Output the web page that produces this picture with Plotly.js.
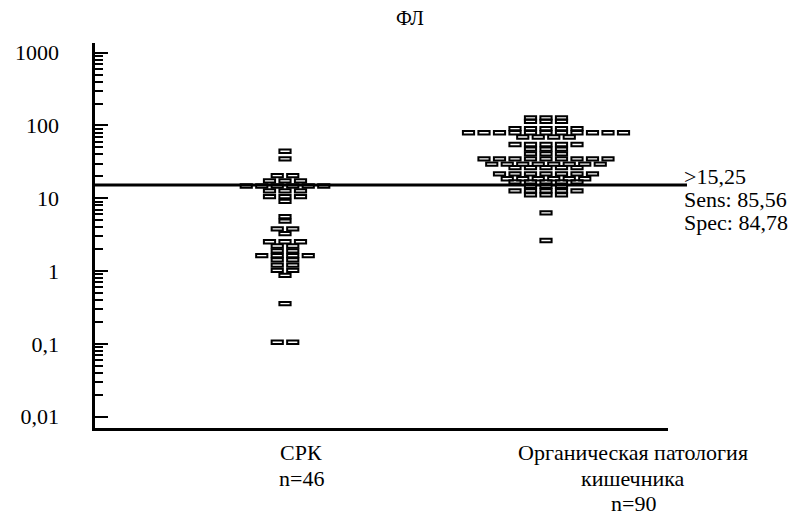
<!DOCTYPE html>
<html><head><meta charset="utf-8">
<script src="https://cdn.plot.ly/plotly-3.0.1.min.js"></script>
<style>html,body{margin:0;padding:0;background:#fff}</style>
</head><body><div id="chart" style="width:798px;height:524px"></div>
<script>
// ---- data ----
const chartTitle = "ФЛ";
const categoryLines = [["СРК"], ["Органическая патология", "кишечника"]];
const groupSizes = ["n=46", "n=90"];
const srkValues = [42, 33, 19.5, 19.5, 16.5, 16.5, 16.5,
  14, 14, 14, 14, 14, 14, 12, 12, 12, 10, 10, 10, 8.6,
  5.3, 4.6, 3.6, 3.6, 3.1, 2.4, 2.4, 2.4, 2.1, 2.1, 1.8, 1.8,
  1.55, 1.55, 1.55, 1.55, 1.35, 1.35, 1.15, 1.15, 0.97, 0.97, 0.83,
  0.34, 0.1, 0.1];
const orgValues = [121, 121, 121, 108, 108, 108, 86, 86, 86, 86, 86,
  75.5, 75.5, 75.5, 75.5, 75.5, 75.5, 75.5, 75.5, 75.5, 75.5, 75.5,
  66, 66, 66, 66, 52, 52, 52, 52, 52, 45, 45, 45, 38.6, 38.6, 38.6,
  33, 33, 33, 33, 33, 33, 33, 33, 33, 28, 28, 28, 28, 28, 28, 28, 28,
  25, 25, 25, 25, 25, 20.6, 20.6, 20.6, 20.6, 20.6, 20.6, 20.6,
  17.6, 17.6, 17.6, 17.6, 17.6, 17.6, 16, 16, 16, 16, 16,
  13.9, 13.9, 13.9, 12, 12, 12, 12, 12, 10.6, 10.6, 10.6, 6, 2.5];
const cutoff = 15.25;
const statLines = [">15,25", "Sens: 85,56", "Spec: 84,78"];
const yTickVals = [0.01, 0.1, 1, 10, 100, 1000];
const yTickText = ["0,01", "0,1", "1", "10", "100", "1000"];

// ---- layout constants ----
const W = 798, H = 524;
const plotL = 95, plotR = 668, plotT = 43, plotB = 428;
const plotW = plotR - plotL, plotH = plotB - plotT;
const groupCenters = [190, 451];     // x-axis units (= px from plot left)
const labelCenters = [301, 633];     // px
const boxStep = 15.5;
const FONT = "Liberation Serif, Times New Roman, serif";
const FS = 22;
const px = x => (x - plotL) / plotW;
const py = y => (plotB - y) / plotH;

const groups = [srkValues, orgValues];
const shapes = [];
const traces = [];
groups.forEach((vals, g) => {
  const rows = new Map();
  vals.forEach(v => { if (!rows.has(v)) rows.set(v, []); rows.get(v).push(v); });
  const xs = [], ys = [];
  rows.forEach((arr, v) => {
    const n = arr.length;
    arr.forEach((_, i) => {
      xs.push(groupCenters[g] + (i - (n - 1) / 2) * boxStep);
      ys.push(v);
    });
  });
  traces.push({x: xs, y: ys, type: 'scatter', mode: 'markers',
    name: categoryLines[g].join(' '), marker: {size: 10, opacity: 0}, hoverinfo: 'y', showlegend: false});
  xs.forEach((x, i) => shapes.push({type: 'rect', xref: 'x', yref: 'y',
    xsizemode: 'pixel', ysizemode: 'pixel', xanchor: x, yanchor: ys[i],
    x0: -5.6, x1: 5.6, y0: -3.3, y1: 3.3,
    line: {color: '#000', width: 2}, fillcolor: 'rgba(0,0,0,0)'}));
});

shapes.push({type: 'line', xref: 'paper', yref: 'y', x0: 0, x1: px(687),
  y0: cutoff, y1: cutoff, line: {color: '#000', width: 3}});

const minorVals = [];
[0.01, 0.1, 1, 10, 100].forEach(d => { for (let k = 2; k <= 9; k++) minorVals.push(+(k * d).toPrecision(3)); });

const txt = (text, x, y, xanchor, size) => ({text, x: px(x), y: py(y), xref: 'paper', yref: 'paper',
  showarrow: false, xanchor: xanchor, yanchor: 'middle',
  font: {size: size || FS, family: FONT, color: '#000'}});

const annotations = [txt(chartTitle, 410, 18, 'center', 20)];
categoryLines.forEach((lines, g) => {
  const all = lines.concat([groupSizes[g]]);
  all.forEach((t, i) => annotations.push(txt(t, labelCenters[g], 453 + i * 25, 'center')));
});
statLines.forEach((t, i) => annotations.push(txt(t, 682, 176 + i * 23, 'left')));

const layout = {
  width: W, height: H,
  margin: {l: plotL, r: W - plotR, t: plotT, b: H - plotB, pad: 0},
  paper_bgcolor: '#fff', plot_bgcolor: '#fff',
  showlegend: false,
  xaxis: {range: [0, plotW], showgrid: false, zeroline: false, showticklabels: false,
    ticks: '', showline: true, linecolor: '#000', linewidth: 3, fixedrange: true},
  yaxis: {type: 'log', range: [-2.155, 3.133], showgrid: false, zeroline: false,
    tickmode: 'array', tickvals: yTickVals, ticktext: yTickText,
    ticks: 'inside', ticklen: 13, tickwidth: 2, tickcolor: '#000',
    showline: true, linecolor: '#000', linewidth: 3.5,
    ticklabelstandoff: 28,
    tickfont: {size: FS, family: FONT, color: '#000'},
    minor: {ticks: 'inside', ticklen: 8, tickwidth: 2, tickcolor: '#000',
      tickmode: 'array', tickvals: minorVals, showgrid: false},
    fixedrange: true},
  shapes: shapes,
  annotations: annotations
};

Plotly.newPlot('chart', traces, layout, {staticPlot: true, displayModeBar: false});
</script>
</body></html>
